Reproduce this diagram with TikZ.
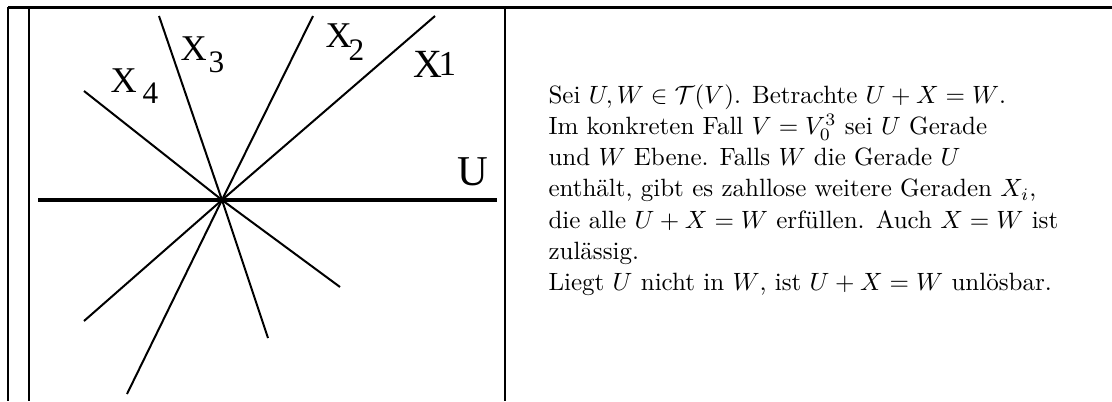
\documentclass[tikz,border=0pt]{standalone}
\usepackage{fontspec}
\newfontfamily\tnr{Liberation Serif}
\begin{document}
\begin{tikzpicture}[x=0.4pt,y=-0.4pt,
  frame/.style={line width=0.8pt},
  topline/.style={line width=1.2pt},
  ray/.style={line width=0.8pt},
  uline/.style={line width=1.5pt},
  lbl/.style={inner sep=0, anchor=base west},
  sub/.style={inner sep=0, anchor=base west}]
\useasboundingbox (0,0) rectangle (1112,401);
% frame
\coordinate (TL) at (8,7);
\coordinate (TR) at (1112,7);
\coordinate (BL) at (8,401);
\coordinate (T2) at (29,7);
\coordinate (B2) at (29,401);
\coordinate (T3) at (505,7);
\coordinate (B3) at (505,401);
\draw[topline] (TL) -- (TR);
\draw[frame] (TL) -- (BL);
\draw[frame] (T2) -- (B2);
\draw[frame] (T3) -- (B3);
% rays
\coordinate (O) at (222,200);
\coordinate (Ul) at (38,200);
\coordinate (Ur) at (497,200);
\coordinate (X1a) at (435,16);
\coordinate (X1b) at (84,321);
\coordinate (X2a) at (313,16);
\coordinate (X2b) at (127,394);
\coordinate (X3a) at (159,16);
\coordinate (X3b) at (268,338);
\coordinate (X4a) at (84,91);
\coordinate (X4b) at (340,287);
\draw[uline] (Ul) -- (Ur);
\draw[ray] (X1a) -- (O) -- (X1b);
\draw[ray] (X2a) -- (O) -- (X2b);
\draw[ray] (X3a) -- (O) -- (X3b);
\draw[ray] (X4a) -- (O) -- (X4b);
% labels
\node[lbl] (l4) at (110,92) {\tnr\fontsize{14.5}{14.5}\selectfont X};
\node[sub] (s4) at (142,103) {\tnr\fontsize{12.5}{12.5}\selectfont 4};
\node[lbl] (l3) at (180,60) {\tnr\fontsize{14.5}{14.5}\selectfont X};
\node[sub] (s3) at (208,72) {\tnr\fontsize{12.5}{12.5}\selectfont 3};
\node[lbl] (l2) at (325,47) {\tnr\fontsize{14.5}{14.5}\selectfont X};
\node[sub] (s2) at (348,60) {\tnr\fontsize{12.5}{12.5}\selectfont 2};
\node[lbl] (l1) at (413,77) {\tnr\fontsize{16}{16}\selectfont X};
\node[sub] (s1) at (438,75) {\tnr\fontsize{14}{14}\selectfont 1};
\node[lbl] (u) at (457,185) {\tnr\fontsize{17}{17}\selectfont U};
% text
\node[inner sep=0, anchor=base west] (txt) at (548,103) {\parbox[t]{240pt}{\fontsize{10}{12.5}\selectfont\raggedright
Sei $U,W\in\mathcal{T}(V)$. Betrachte $U+X=W$.\\
Im konkreten Fall $V=V_0^3$ sei $U$ Gerade\\
und $W$ Ebene. Falls $W$ die Gerade $U$\\
enthält, gibt es zahllose weitere Geraden $X_i$,\\
die alle $U+X=W$ erfüllen. Auch $X=W$ ist\\
zulässig.\\
Liegt $U$ nicht in $W$, ist $U+X=W$ unlösbar.}};
\end{tikzpicture}
\end{document}
